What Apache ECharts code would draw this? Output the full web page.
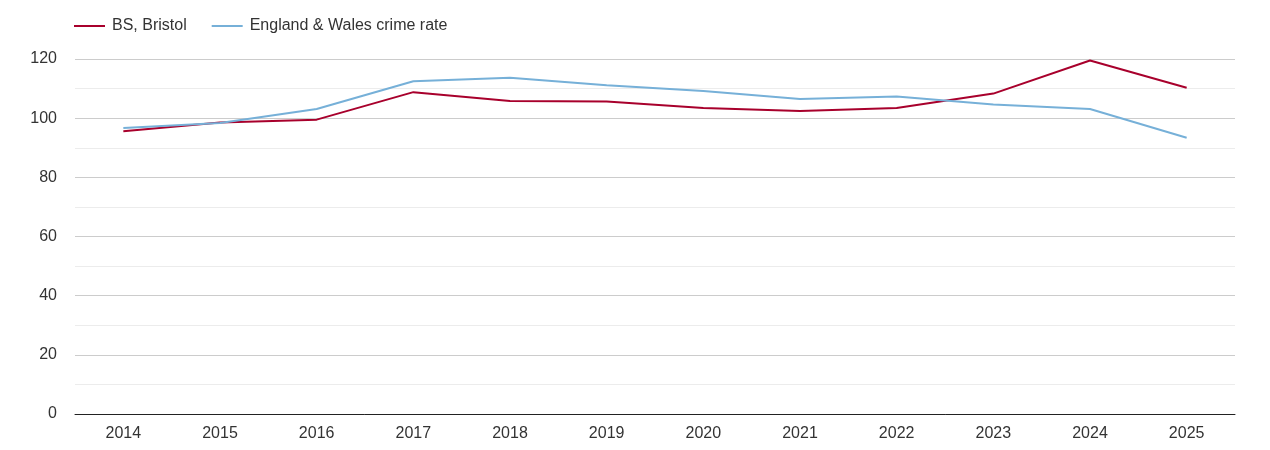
<!DOCTYPE html>
<html>
<head>
<meta charset="utf-8">
<script src="https://cdn.jsdelivr.net/npm/echarts@6/dist/echarts.min.js"></script>
<style>
  html, body { margin: 0; padding: 0; background: #fff; }
  #main { width: 1270px; height: 450px; }
</style>
</head>
<body>
<div id="main"></div>
<script>
// crime rate, BS Bristol vs England & Wales
var years = ['2014', '2015', '2016', '2017', '2018', '2019', '2020', '2021', '2022', '2023', '2024', '2025'];
var bristol = [95.6, 98.5, 99.5, 108.8, 105.8, 105.6, 103.4, 102.4, 103.4, 108.3, 119.5, 110.3];
var englandWales = [96.7, 98.4, 103.1, 112.5, 113.7, 111.1, 109.2, 106.5, 107.3, 104.6, 103.1, 93.4];
var yTicks = [0, 20, 40, 60, 80, 100, 120];

var myChart = echarts.init(document.getElementById('main'));
var option = {
    animation: false,
    textStyle: { fontFamily: 'Liberation Sans, Arial, sans-serif' },
    legend: {
        left: 69,
        top: 13,
        itemWidth: 31,
        itemHeight: 2,
        itemGap: 25,
        icon: 'rect',
        textStyle: { fontSize: 16, color: '#333', padding: [0, 0, 0, 2] },
        data: ['BS, Bristol', 'England & Wales crime rate']
    },
    grid: { left: 75, right: 35, top: 59, bottom: 36 },
    xAxis: {
        type: 'category',
        data: years,
        axisTick: { show: false },
        axisLine: { lineStyle: { color: '#222', width: 1 } },
        axisLabel: { fontSize: 16, color: '#333', margin: 12 }
    },
    yAxis: {
        type: 'value',
        min: yTicks[0],
        max: yTicks[yTicks.length - 1],
        interval: 20,
        axisLine: { show: false },
        axisTick: { show: false },
        axisLabel: { fontSize: 16, color: '#333', margin: 18 },
        splitLine: { lineStyle: { color: '#cccccc' } },
        minorTick: { show: false, splitNumber: 2 },
        minorSplitLine: { show: true, lineStyle: { color: '#ececec' } }
    },
    series: [{
        name: 'BS, Bristol',
        type: 'line',
        data: bristol,
        symbol: 'none',
        lineStyle: { color: '#a8002c', width: 2 },
        itemStyle: { color: '#a8002c' }
    }, {
        name: 'England & Wales crime rate',
        type: 'line',
        data: englandWales,
        symbol: 'none',
        lineStyle: { color: '#76b0d8', width: 2 },
        itemStyle: { color: '#76b0d8' }
    }]
};
myChart.setOption(option);
</script>
</body>
</html>
